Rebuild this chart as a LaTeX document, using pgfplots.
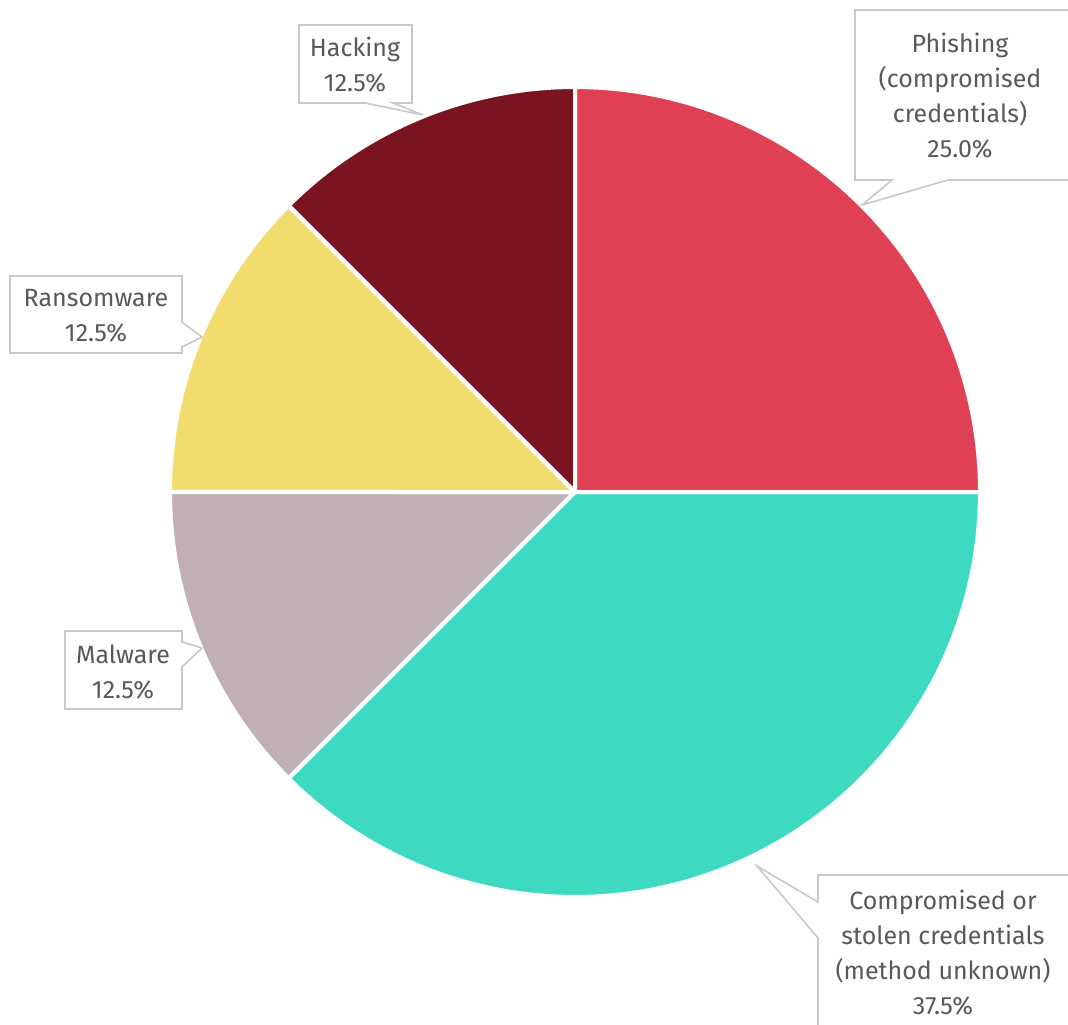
\documentclass[border=0pt]{standalone}
\usepackage{pgfplots}
\pgfplotsset{compat=1.18}
\usepackage{fontspec}
\setmainfont{Fira Sans}
\definecolor{cphish}{HTML}{E04054}
\definecolor{ccomp}{HTML}{3DD9C1}
\definecolor{cmal}{HTML}{C0B0B3}
\definecolor{cran}{HTML}{F2DC6E}
\definecolor{chack}{HTML}{7B1421}
\definecolor{boxc}{HTML}{C8C8C8}
\definecolor{txtc}{HTML}{595959}

% shares in percent, clockwise from 12 o'clock
% #1 share before this slice, #2 share of this slice, #3 options
\newcommand\slice[3]{%
  \pgfmathsetmacro\aa{90-(#1+#2)*3.6}%
  \pgfmathsetmacro\bb{90-#1*3.6}%
  \edef\tmp{\noexpand\addplot[#3, domain=\aa:\bb, samples=80]
    ({575+405*cos(x)},{492-405*sin(x)}) -- (575,492) -- cycle;}%
  \tmp}

\begin{document}
\begin{tikzpicture}
\begin{axis}[
  x=1pt, y=1pt, y dir=reverse,
  xmin=0, xmax=1068, ymin=0, ymax=1025,
  hide axis, clip=false,
  every axis plot/.append style={mark=none},
]
% Phishing 25.0, Compromised 37.5, Malware 12.5, Ransomware 12.5, Hacking 12.5
\slice{0}{25.0}{fill=cphish, draw=none}
\slice{25.0}{37.5}{fill=ccomp, draw=none}
\slice{62.5}{12.5}{fill=cmal, draw=none}
\slice{75.0}{12.5}{fill=cran, draw=none}
\slice{87.5}{12.5}{fill=chack, draw=none}
\slice{0}{25.0}{draw=white, line width=4pt, line join=round}
\slice{25.0}{37.5}{draw=white, line width=4pt, line join=round}
\slice{62.5}{12.5}{draw=white, line width=4pt, line join=round}
\slice{75.0}{12.5}{draw=white, line width=4pt, line join=round}
\slice{87.5}{12.5}{draw=white, line width=4pt, line join=round}

\begin{scope}[draw=boxc, fill=white, line width=1.6pt, line join=miter]
\filldraw (299,25) -- (412,25) -- (412,103) -- (393,103) -- (423,115) -- (365,103) -- (299,103) -- cycle;
\filldraw (10,276) -- (182,276) -- (182,322) -- (202,337) -- (182,347) -- (182,353) -- (10,353) -- cycle;
\filldraw (65,631) -- (182,631) -- (182,642) -- (202,648) -- (182,667) -- (182,709) -- (65,709) -- cycle;
\filldraw (855,10) -- (1080,10) -- (1080,180) -- (948,180) -- (862,205) -- (892,180) -- (855,180) -- cycle;
\filldraw (818,875) -- (1080,875) -- (1080,1040) -- (818,1040) -- (818,938) -- (757,866) -- (818,902) -- cycle;
\end{scope}

\begin{scope}[every node/.style={text=txtc, align=center, inner sep=0pt,
    font=\fontsize{25}{35}\selectfont}]
\node at (355,65) {Hacking\\12.5\%};
\node at (960,96) {Phishing\\(compromised\\credentials)\\25.0\%};
\node at (96,316) {Ransomware\\12.5\%};
\node at (123,672) {Malware\\12.5\%};
\node at (943,953) {Compromised or\\stolen credentials\\(method unknown)\\37.5\%};
\end{scope}
\end{axis}
\pgfresetboundingbox
\path (current axis.south west) rectangle (current axis.north east);
\end{tikzpicture}
\end{document}
